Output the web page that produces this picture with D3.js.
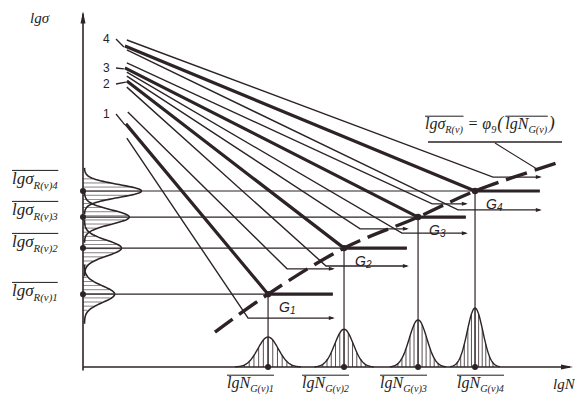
<!DOCTYPE html>
<html><head><meta charset="utf-8">
<script src="https://cdn.jsdelivr.net/npm/d3@7"></script>
<style>
body{margin:0;background:#fff}
svg{display:block}
.math{font-family:"Liberation Serif","DejaVu Serif",serif;font-style:italic;fill:#1e1e1e}
.num{font-family:"Liberation Sans",Arial,sans-serif;fill:#2a2224}
</style>
</head><body>
<svg id="chart" width="575" height="398"></svg>
<script>
// group numbers 1..4
const groups = [1, 2, 3, 4];
// knee (mean) points, lgN and lgσ units
const meanN = [3.80, 5.36, 6.88, 8.05];
const meanS = [2.04, 3.33, 4.20, 4.93];
// start points of the S-N lines [lgN, lgσ]
const startUpper = [[0.92, 7.14], [0.90, 8.15], [0.90, 8.52], [0.90, 9.16]];
const startMean  = [[0.88, 6.81], [0.90, 8.01], [0.86, 8.38], [0.86, 8.99]];
const startLower = [[0.90, 6.41], [0.90, 7.84], [0.90, 8.26], [0.90, 8.88]];
// knees of the scatter-band lines
const kneeUpper = [[4.19, 2.75], [5.69, 3.87], [7.17, 4.57], [8.42, 5.32]];
const kneeLower = [[3.39, 1.37], [4.99, 2.83], [6.55, 3.75], [7.70, 4.40]];
// end of horizontal (endurance) branches
const endN = [5.13, 6.65, 7.86, 9.38];
// fitted curve lgσR = φ9(lgNG)
const fitN = [2.71, 3.80, 5.36, 6.88, 8.05, 9.79];
const fitS = [0.98, 2.04, 3.33, 4.20, 4.93, 5.74];
// distributions: left (of lgσR) and bottom (of lgNG)
const leftHeight = [0.62, 0.76, 0.92, 1.17];
const leftSpread = [0.23, 0.22, 0.20, 0.18];
const bottomHeight = [0.84, 1.06, 1.32, 1.65];
const bottomSpread = [0.21, 0.19, 0.18, 0.16];

const svg = d3.select("#chart");
const ink = "#2d2326";
const x = d3.scaleLinear().domain([0, 10]).range([83, 570]);
const y = d3.scaleLinear().domain([0, 10]).range([367, 10]);
const line = d3.line().x(d => x(d[0])).y(d => y(d[1]));

const gauss = (v, m, s) => Math.exp(-0.5 * ((v - m) / s) * ((v - m) / s));

// --- left distributions (hatching first)
const gl = svg.append("g");
for (let s = 0.9; s <= 5.75; s += 0.115) {
    let h = 0;
    groups.forEach((g, i) => { h = Math.max(h, leftHeight[i] * gauss(s, meanS[i], leftSpread[i])); });
    if (h > 0.05) {
        gl.append("line").attr("x1", x(0)).attr("x2", x(h)).attr("y1", y(s)).attr("y2", y(s))
            .attr("stroke", ink).attr("stroke-width", 0.7).attr("opacity", 0.8);
    }
}
groups.forEach((g, i) => {
    const pts = d3.range(-3.6, 3.61, 0.1).map(k => {
        const s = meanS[i] + k * leftSpread[i];
        return [leftHeight[i] * gauss(s, meanS[i], leftSpread[i]) + 0.03, s];
    });
    gl.append("path").attr("d", line(pts)).attr("fill", "none").attr("stroke", ink).attr("stroke-width", 1.6);
});

// --- bottom distributions
const gb = svg.append("g");
groups.forEach((g, i) => {
    for (let k = -2.3; k <= 2.31; k += 0.46) {
        const n = meanN[i] + k * bottomSpread[i];
        const h = bottomHeight[i] * gauss(n, meanN[i], bottomSpread[i]);
        gb.append("line").attr("x1", x(n)).attr("x2", x(n)).attr("y1", y(0)).attr("y2", y(h))
            .attr("stroke", ink).attr("stroke-width", 0.8);
    }
    const pts = d3.range(-3.2, 3.21, 0.1).map(k => {
        const n = meanN[i] + k * bottomSpread[i];
        return [n, bottomHeight[i] * gauss(n, meanN[i], bottomSpread[i])];
    });
    gb.append("path").attr("d", line(pts)).attr("fill", "none").attr("stroke", ink).attr("stroke-width", 1.4);
});

// --- axes
const ga = svg.append("g").attr("stroke", ink).attr("stroke-width", 1.6);
ga.append("line").attr("x1", x(0)).attr("x2", x(0)).attr("y1", y(-0.1)).attr("y2", y(9.9));
ga.append("line").attr("x1", x(0)).attr("x2", x(10)).attr("y1", y(0)).attr("y2", y(0));
svg.append("path").attr("fill", ink)
    .attr("d", `M${x(0)},${y(9.9) - 2}l-2.5,12l5,0z`);
svg.append("path").attr("fill", ink)
    .attr("d", `M${x(10) + 3},${y(0)}l-12,-2.5l0,5z`);

// --- reference lines and verticals
const gr = svg.append("g").attr("stroke", ink).attr("stroke-width", 1.2);
groups.forEach((g, i) => {
    gr.append("line").attr("x1", x(0)).attr("x2", x(endN[i])).attr("y1", y(meanS[i])).attr("y2", y(meanS[i]));
    gr.append("line").attr("x1", x(meanN[i])).attr("x2", x(meanN[i])).attr("y1", y(meanS[i])).attr("y2", y(0));
});

// --- S-N lines
const gs = svg.append("g").attr("fill", "none").attr("stroke", ink);
groups.forEach((g, i) => {
    gs.append("path").attr("d", line([startUpper[i], kneeUpper[i], [endN[i], kneeUpper[i][1]]])).attr("stroke-width", 1.4);
    gs.append("path").attr("d", line([startLower[i], kneeLower[i], [endN[i], kneeLower[i][1]]])).attr("stroke-width", 1.4);
    gs.append("path").attr("d", line([startMean[i], [meanN[i], meanS[i]], [endN[i], meanS[i]]]))
        .attr("stroke-width", 3.2).attr("stroke-linejoin", "round");
});

// --- fitted dashed curve
svg.append("path")
    .attr("d", d3.line().x(d => x(d[0])).y(d => y(d[1])).curve(d3.curveCatmullRom)(fitN.map((n, i) => [n, fitS[i]])))
    .attr("fill", "none").attr("stroke", ink).attr("stroke-width", 3.4).attr("stroke-dasharray", "22,8");

// --- dots
const gd = svg.append("g").attr("fill", ink);
groups.forEach((g, i) => {
    gd.append("circle").attr("cx", x(0)).attr("cy", y(meanS[i])).attr("r", 3);
    gd.append("circle").attr("cx", x(meanN[i])).attr("cy", y(0)).attr("r", 3);
    gd.append("circle").attr("cx", x(meanN[i])).attr("cy", y(meanS[i])).attr("r", 3.2);
    [kneeUpper[i][1], kneeLower[i][1]].forEach(s => {
        gd.append("path").attr("d", `M${x(endN[i]) + 2},${y(s)}l-6,-2l0,4z`);
    });
});

// --- group numbers
const numY = [118, 88, 72, 43];
groups.forEach((g, i) => {
    svg.append("text").attr("class", "num").attr("x", 103).attr("y", numY[i]).style("font-size", "12px").text(g);
    svg.append("line").attr("x1", 116).attr("y1", numY[i] - 4).attr("x2", x(startMean[i][0]) - 1).attr("y2", y(startMean[i][1]) + 1)
        .attr("stroke", ink).attr("stroke-width", 1.3);
});

// --- G labels
groups.forEach((g, i) => {
    const t = svg.append("text").attr("class", "num").style("font-style", "italic")
        .attr("x", x(meanN[i]) + 11).attr("y", y(meanS[i]) + 18).style("font-size", "14px");
    t.append("tspan").text("G");
    t.append("tspan").attr("dy", 2).style("font-size", "10px").text(g);
});

// math label with optional overline
function mathText(px, py, main, sub, size, over) {
    const t = svg.append("text").attr("class", "math").attr("x", px).attr("y", py).style("font-size", size + "px");
    t.append("tspan").text(main);
    if (sub) t.append("tspan").attr("dy", size * 0.28).style("font-size", (size * 0.64) + "px").text(sub);
    const bb = t.node().getBBox();
    if (over) {
        svg.append("line").attr("x1", bb.x).attr("x2", bb.x + bb.width)
            .attr("y1", py - size * 0.8).attr("y2", py - size * 0.8)
            .attr("stroke", "#1e1e1e").attr("stroke-width", 1);
    }
    return bb;
}

const leftY = [296, 247, 215, 184];
groups.forEach((g, i) => mathText(12, leftY[i], "lgσ", "R(v)" + g, 17, true));
const botX = [227, 302, 380, 457];
groups.forEach((g, i) => mathText(botX[i], 388, "lgN", "G(v)" + g, 16, true));
mathText(30, 23, "lgσ", "", 15, false);
mathText(553, 389, "lgN", "", 15, false);

// formula
let fx = 425;
const fy = 129;
let b = mathText(fx, fy, "lgσ", "R(v)", 16, true);
fx = b.x + b.width + 4;
b = mathText(fx, fy, "= φ", "9", 16, false);
fx = b.x + b.width + 1;
b = mathText(fx, fy, "(", "", 18, false);
fx = b.x + b.width + 1;
b = mathText(fx, fy, "lgN", "G(v)", 16, true);
fx = b.x + b.width + 1;
mathText(fx, fy, ")", "", 18, false);
svg.append("line").attr("x1", 428).attr("x2", 562).attr("y1", 142).attr("y2", 142).attr("stroke", ink).attr("stroke-width", 1.3);
svg.append("line").attr("x1", 495).attr("x2", 537).attr("y1", 143).attr("y2", 169).attr("stroke", ink).attr("stroke-width", 1.1);
</script>
</body></html>
